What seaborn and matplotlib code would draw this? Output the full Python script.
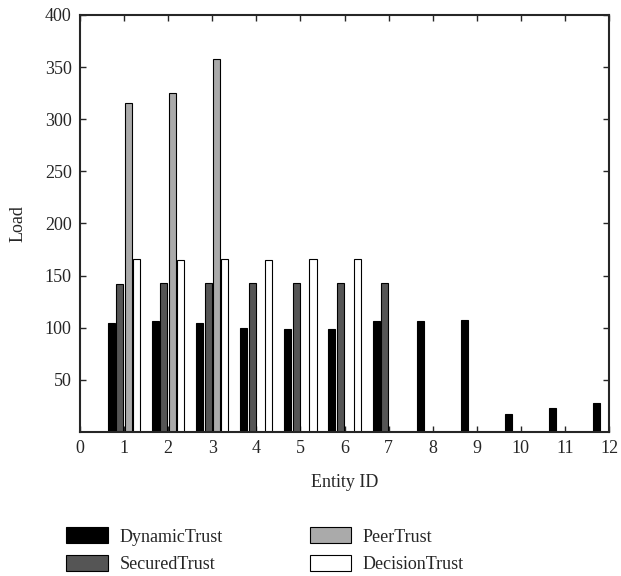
import numpy as np
import pandas as pd
import seaborn as sns
import matplotlib.pyplot as plt

# Data
entity_ids = [1, 2, 3, 4, 5, 6, 7, 8, 9, 10, 11, 12]
dynamic_trust = [105, 106, 105, 100, 99, 99, 106, 106, 107, 17, 23, 28]
secured_trust = [142, 143, 143, 143, 143, 143, 143, np.nan, np.nan, np.nan, np.nan, np.nan]
peer_trust = [316, 325, 358, np.nan, np.nan, np.nan, np.nan, np.nan, np.nan, np.nan, np.nan, np.nan]
decision_trust = [166, 165, 166, 165, 166, 166, np.nan, np.nan, np.nan, np.nan, np.nan, np.nan]

series = ['DynamicTrust', 'SecuredTrust', 'PeerTrust', 'DecisionTrust']
colors = ['#000000', '#555555', '#aaaaaa', '#ffffff']
x_ticks = list(range(0, 13))
y_ticks = list(range(50, 401, 50))

df = pd.DataFrame({
    'Entity ID': entity_ids,
    'DynamicTrust': dynamic_trust,
    'SecuredTrust': secured_trust,
    'PeerTrust': peer_trust,
    'DecisionTrust': decision_trust,
})
long = df.melt(id_vars='Entity ID', var_name='Method', value_name='Load').dropna()

sns.set_style('ticks')
plt.rcParams['font.family'] = ['Liberation Serif', 'DejaVu Serif']

fig = plt.figure(figsize=(6.21, 5.76), dpi=100)
ax = fig.add_axes([0.1288, 0.25, 0.852, 0.724])

sns.barplot(data=long, x='Entity ID', y='Load', hue='Method', hue_order=series,
            palette=colors, native_scale=True, width=0.76, gap=0.16,
            edgecolor='black', linewidth=0.8, saturation=1, ax=ax, legend=True)

ax.set_xlim(0, 12)
ax.set_ylim(0, 400)
ax.set_xticks(x_ticks)
ax.set_xticklabels([str(t) for t in x_ticks])
ax.set_yticks(y_ticks)
ax.tick_params(direction='in', top=True, right=True, length=4, width=1,
               labelsize=13, pad=6)
for s in ax.spines.values():
    s.set_linewidth(1.5)
    s.set_visible(True)
ax.set_xlabel('Entity ID', fontsize=13, labelpad=12)
ax.set_ylabel('Load', fontsize=13, labelpad=13)

handles, labels = ax.get_legend_handles_labels()
ax.get_legend().remove()
fig.legend(handles, labels, loc='center', bbox_to_anchor=(0.427, 0.045), ncol=2,
           frameon=False, fontsize=13, handlelength=2.3, handleheight=1.0,
           labelspacing=0.5, columnspacing=4.8, handletextpad=0.65)

fig.savefig('out.png', dpi=100)
